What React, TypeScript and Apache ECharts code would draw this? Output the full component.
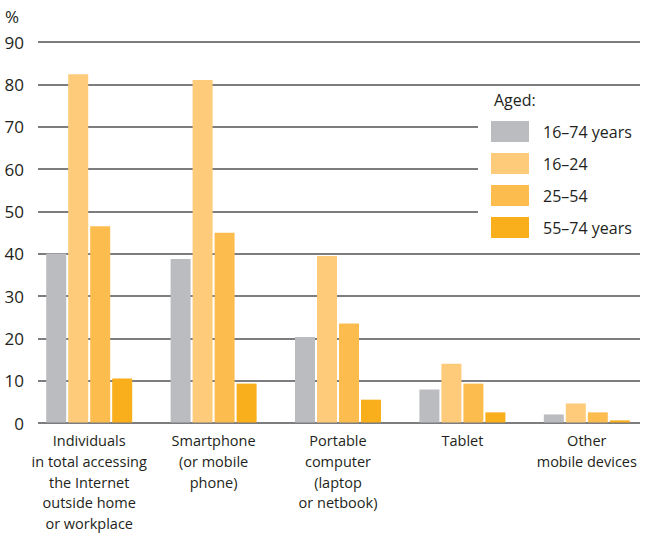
import React, { useEffect, useRef } from "react";
import * as echarts from "echarts";

const categories = [
  "Individuals\nin total accessing\nthe Internet\noutside home\nor workplace",
  "Smartphone\n(or mobile\nphone)",
  "Portable\ncomputer\n(laptop\nor netbook)",
  "Tablet",
  "Other\nmobile devices",
];
const seriesNames = ["16–74 years", "16–24", "25–54", "55–74 years"];
const aged16to74 = [40, 38.7, 20.2, 7.8, 1.9];
const aged16to24 = [82.4, 81, 39.4, 13.9, 4.5];
const aged25to54 = [46.4, 44.9, 23.4, 9.2, 2.4];
const aged55to74 = [10.4, 9.2, 5.4, 2.4, 0.5];
const yTicks = [0, 10, 20, 30, 40, 50, 60, 70, 80, 90];

const colors = ["#bbbcbf", "#fdcb7a", "#fcbd4e", "#f9ae1b"];
const FONT = "'Open Sans', sans-serif";
const TEXT = "#231f20";

export default function App() {
  const ref = useRef<HTMLDivElement>(null);
  useEffect(() => {
    if (!ref.current) return;
    const chart = echarts.init(ref.current, undefined, { renderer: "svg" });
    const values = [aged16to74, aged16to24, aged25to54, aged55to74];
    chart.setOption({
      animation: false,
      textStyle: { fontFamily: FONT },
      grid: [
        { left: 38, right: 9, top: 42, bottom: 111 },
        { left: 27, right: -1, top: 42, bottom: 111 },
      ],
      xAxis: [
        { gridIndex: 0, type: "category", data: categories, show: false },
        {
          gridIndex: 1,
          type: "category",
          data: categories,
          axisLine: { show: false },
          axisTick: { show: false },
          axisLabel: {
            interval: 0,
            fontSize: 14.5,
            lineHeight: 20.7,
            color: TEXT,
            fontFamily: FONT,
            margin: 8,
            verticalAlign: "top",
          },
        },
      ],
      yAxis: [
        {
          gridIndex: 0,
          type: "value",
          min: 0,
          max: 90,
          interval: 10,
          axisLine: { show: false },
          axisTick: { show: false },
          axisLabel: {
            fontSize: 17,
            color: TEXT,
            fontFamily: FONT,
            margin: 14,
            formatter: (v: number) => (yTicks.includes(v) ? String(v) : ""),
          },
          splitLine: { lineStyle: { color: "#7d7d7f", width: 2 } },
        },
        {
          gridIndex: 1,
          type: "value",
          min: 0,
          max: 90,
          interval: 10,
          show: false,
        },
      ],
      legend: {
        orient: "vertical",
        left: 478,
        top: 92,
        padding: [29, 20, 8, 13],
        backgroundColor: "#ffffff",
        itemWidth: 38,
        itemHeight: 21,
        itemGap: 11,
        icon: "rect",
        data: seriesNames,
        textStyle: {
          fontSize: 16,
          color: TEXT,
          fontFamily: FONT,
          padding: [0, 0, 0, 9],
        },
      },
      graphic: [
        {
          type: "text",
          left: 5,
          top: 8,
          z: 100,
          style: { text: "%", fontSize: 17, fill: TEXT, fontFamily: FONT },
        },
        {
          type: "text",
          left: 494,
          top: 92,
          z: 100,
          style: { text: "Aged:", fontSize: 16, fill: TEXT, fontFamily: FONT },
        },
      ],
      series: seriesNames.map((name, i) => ({
        name,
        type: "bar",
        xAxisIndex: 1,
        yAxisIndex: 1,
        data: values[i],
        barWidth: 20,
        barGap: "10%",
        itemStyle: { color: colors[i] },
        emphasis: { disabled: true },
      })),
    });
    return () => chart.dispose();
  }, []);
  return (
    <div
      ref={ref}
      style={{ position: "absolute", left: 0, top: 0, width: 649, height: 534 }}
    />
  );
}
